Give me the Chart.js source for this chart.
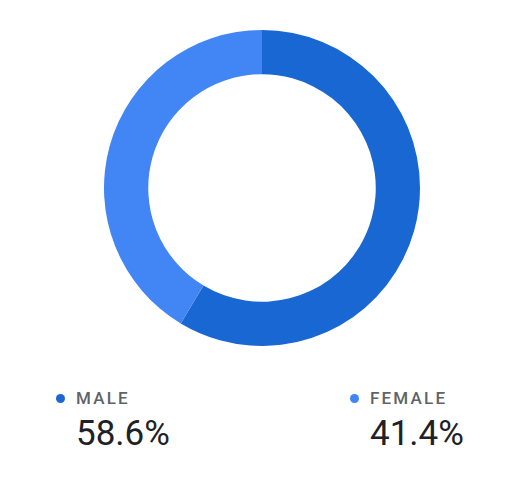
<!DOCTYPE html>
<html>
<head>
<meta charset="utf-8">
<script src="https://cdn.jsdelivr.net/npm/chart.js@4"></script>
<style>
  body { margin: 0; background: #fff; font-family: Roboto, "Noto Sans", sans-serif; }
  #wrap { position: relative; width: 522px; height: 480px; }
  #chartBox { position: absolute; left: 104px; top: 30px; width: 316px; height: 316px; }
  .item { position: absolute; top: 386px; }
  .lab { font-size: 17px; letter-spacing: 2.2px; color: #5f6368; font-weight: 500; line-height: 24px; }
  .dot { position: absolute; left: -20px; top: 8px; width: 9px; height: 9px; border-radius: 50%; }
  .val { font-size: 35px; color: #202124; margin-top: 2px; line-height: 44px; }
</style>
</head>
<body>
<div id="wrap">
  <div id="chartBox"><canvas id="donut"></canvas></div>
  <div id="legend"></div>
</div>
<script>
const categories = ['MALE', 'FEMALE'];
const shares = [58.6, 41.4];
const colors = ['#1967d2', '#4285f4'];
const legendX = [76, 370];

new Chart(document.getElementById('donut'), {
    type: 'doughnut',
    data: {
        labels: categories,
        datasets: [{
            data: shares,
            backgroundColor: colors,
            borderWidth: 0
        }]
    },
    options: {
        responsive: true,
        maintainAspectRatio: false,
        animation: false,
        cutout: '72%',
        plugins: { legend: { display: false }, tooltip: { enabled: false } }
    }
});

// custom legend under the chart
const legend = document.getElementById('legend');
categories.forEach((cat, i) => {
    const el = document.createElement('div');
    el.className = 'item';
    el.style.left = legendX[i] + 'px';
    el.innerHTML = `<div class="lab"><span class="dot" style="background:${colors[i]}"></span>${cat}</div>` +
        `<div class="val">${shares[i].toFixed(1)}%</div>`;
    legend.appendChild(el);
});
</script>
</body>
</html>
